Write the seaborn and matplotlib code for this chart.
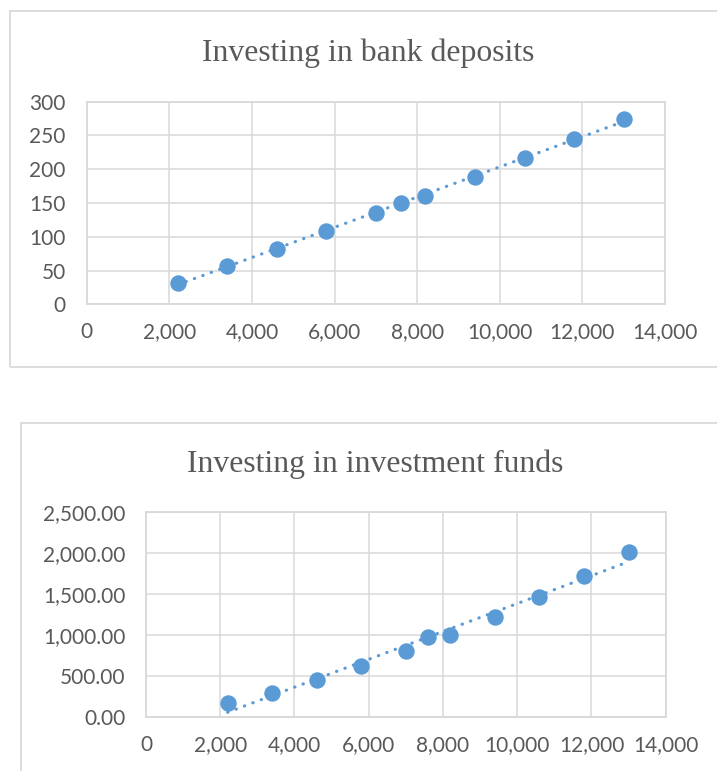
import matplotlib
matplotlib.use("Agg")
import matplotlib.pyplot as plt
import seaborn as sns
import numpy as np
from matplotlib.patches import Rectangle
from matplotlib.ticker import FuncFormatter, MultipleLocator

sns.set_theme(style="white")

# ---- data ----
amount = [2200, 3400, 4600, 5800, 7000, 7600, 8200, 9400, 10600, 11800, 13000]
bank_deposits = [32, 57, 82, 108, 135, 150, 161, 188, 216, 245, 274]
investment_funds = [164, 294, 449, 614, 804, 979, 999, 1216, 1460, 1725, 2018]
title_bank = "Investing in bank deposits"
title_funds = "Investing in investment funds"

BLUE = "#5B9BD5"
GRID = "#D9D9D9"
TXT = "#595959"
W, H = 717, 771

fig = plt.figure(figsize=(W / 100, H / 100), dpi=100)

def px_rect(x0, y0, x1, y1):
    return [x0 / W, 1 - y1 / H, (x1 - x0) / W, (y1 - y0) / H]

# chart frames
for (x0, y0, x1, y1) in [(10, 11, 730, 367), (21, 423, 730, 790)]:
    fig.patches.append(Rectangle((x0 / W, 1 - y1 / H), (x1 - x0) / W, (y1 - y0) / H,
                                 transform=fig.transFigure, fill=False,
                                 edgecolor=GRID, linewidth=1.3, zorder=0))

def style_ax(ax, ymax, ystep, yfmt):
    ax.set_xlim(0, 14000)
    ax.set_ylim(0, ymax)
    ax.xaxis.set_major_locator(MultipleLocator(2000))
    ax.yaxis.set_major_locator(MultipleLocator(ystep))
    ax.xaxis.set_major_formatter(FuncFormatter(lambda v, p: f"{int(v):,}"))
    ax.yaxis.set_major_formatter(FuncFormatter(yfmt))
    ax.grid(True, color=GRID, linewidth=1.1)
    ax.set_axisbelow(True)
    for s in ax.spines.values():
        s.set_visible(True)
        s.set_color(GRID)
        s.set_linewidth(1.3)
    ax.tick_params(axis="y", length=0, pad=15, labelsize=15, labelcolor=TXT)
    ax.tick_params(axis="x", length=0, pad=13, labelsize=15, labelcolor=TXT)
    for lab in ax.get_xticklabels() + ax.get_yticklabels():
        lab.set_fontfamily("Lato")
    ax.set_xlabel("")
    ax.set_ylabel("")

def draw(ax, y):
    sns.regplot(x=amount, y=y, ax=ax, ci=None, color=BLUE,
                scatter_kws=dict(s=140, alpha=1, linewidths=0, zorder=3),
                line_kws=dict(linestyle=(0, (0.1, 2.7)), linewidth=2.3,
                              dash_capstyle="round", zorder=2))

ax1 = fig.add_axes(px_rect(86.7, 101.7, 665, 304.3))
draw(ax1, bank_deposits)
style_ax(ax1, 300, 50, lambda v, p: f"{int(v)}")

ax2 = fig.add_axes(px_rect(146, 512.3, 665.7, 716.7))
draw(ax2, investment_funds)
style_ax(ax2, 2500, 500, lambda v, p: f"{v:,.2f}")

fig.text(368.3 / W, 1 - 61 / H, title_bank, ha="center", va="baseline",
         fontfamily="Liberation Serif", fontsize=22.9, color=TXT)
fig.text(374.8 / W, 1 - 471.7 / H, title_funds, ha="center", va="baseline",
         fontfamily="Liberation Serif", fontsize=22.9, color=TXT)

fig.savefig("out.png", dpi=100)
